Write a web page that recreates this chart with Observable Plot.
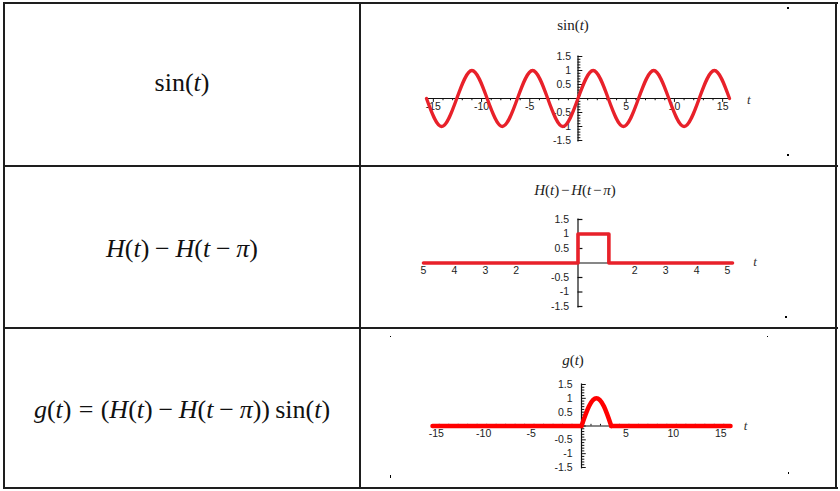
<!DOCTYPE html>
<html><head><meta charset="utf-8">
<script src="https://cdn.jsdelivr.net/npm/d3@7"></script>
<script src="https://cdn.jsdelivr.net/npm/@observablehq/plot@0.6"></script>
<style>
body{margin:0;background:#fff;}
#wrap{position:relative;width:840px;height:491px;overflow:hidden;background:#fff;}
.ln{position:absolute;background:#1e1e1e;}
.eq{position:absolute;left:4px;width:356px;text-align:center;font-family:"Liberation Serif",serif;font-size:26px;line-height:30px;color:#111;white-space:nowrap;}
.eq i{font-style:italic;}
.op{margin:0 0.22em;}
.rel{margin:0 0.28em;}
.ttl{position:absolute;left:400px;width:346px;text-align:center;font-family:"Liberation Serif",serif;font-size:15px;line-height:18px;color:#222;white-space:nowrap;}
.ttl i{font-style:italic;}
.top{margin:0 0.12em;}
.plot{position:absolute;left:400px;}
.dot{position:absolute;background:#000;}
</style>
</head><body>
<div id="wrap">
  <div class="ln" style="left:3px;top:2px;width:835px;height:2px"></div>
  <div class="ln" style="left:3px;top:487px;width:835px;height:2px"></div>
  <div class="ln" style="left:3px;top:2px;width:2px;height:487px"></div>
  <div class="ln" style="left:835px;top:2px;width:2px;height:487px"></div>
  <div class="ln" style="left:359px;top:2px;width:2px;height:487px"></div>
  <div class="ln" style="left:3px;top:165px;width:835px;height:2px"></div>
  <div class="ln" style="left:3px;top:327px;width:835px;height:2px"></div>

  <div class="eq" style="top:68px">sin(<i>t</i>)</div>
  <div class="eq" style="top:234px"><i>H</i>(<i>t</i>)<span class="op">−</span><i>H</i>(<i>t</i><span class="op">−</span><i>π</i>)</div>
  <div class="eq" style="top:395px"><i>g</i>(<i>t</i>)<span class="rel">=</span>(<i>H</i>(<i>t</i>)<span class="op">−</span><i>H</i>(<i>t</i><span class="op">−</span><i>π</i>))&thinsp;sin(<i>t</i>)</div>

  <div class="ttl" style="top:16px">sin(<i>t</i>)</div>
  <div class="ttl" style="top:181px;left:402px"><i>H</i>(<i>t</i>)<span class="top">−</span><i>H</i>(<i>t</i><span class="top">−</span><i>π</i>)</div>
  <div class="ttl" style="top:351px"><i>g</i>(<i>t</i>)</div>

  <div class="plot" id="p1" style="top:40px"></div>
  <div class="plot" id="p2" style="top:205px"></div>
  <div class="plot" id="p3" style="top:370px"></div>

  <div class="dot" style="left:787px;top:7px;width:2px;height:2px"></div>
  <div class="dot" style="left:787px;top:154px;width:2px;height:2px"></div>
  <div class="dot" style="left:785px;top:316px;width:2px;height:2px"></div>
  <div class="dot" style="left:767px;top:336px;width:1px;height:1px"></div>
  <div class="dot" style="left:390px;top:336px;width:1px;height:1px"></div>
  <div class="dot" style="left:390px;top:475px;width:1px;height:3px"></div>
  <div class="dot" style="left:788px;top:472px;width:1px;height:2px"></div>
</div>
<script>
// ---- data ----
// sin(t): key points (zeros and extrema)
const sinT = [-15.71,-14.14,-12.57,-11.00,-9.42,-7.85,-6.28,-4.71,-3.14,-1.57,0,1.57,3.14,4.71,6.28,7.85,9.42,11.00,12.57,14.14,15.71];
const sinV = [0,-1,0,1,0,-1,0,1,0,-1,0,1,0,-1,0,1,0,-1,0,1,0];
// H(t) - H(t - pi)
const stepT = [-15.71,0,0,3.14,3.14,15.71];
const stepV = [0,0,1,1,0,0];
// g(t): flat, bump, flat
const gT   = [-15.71,0,  0,0.79,1.57,2.36,3.14,  3.14,15.71];
const gV   = [0,0,       0,0.71,1,0.71,0,        0,0];
const gSeg = ["a","a",   "b","b","b","b","b",    "c","c"];

// tick labels
const xTicks1 = [-15,-10,-5,5,10,15];
const xLabels1 = ["-15","-10","-5","5","10","15"];
const yTicks = [-1.5,-1,-0.5,0.5,1,1.5];
const yLabels = ["-1.5","-1","-0.5","0.5","1","1.5"];
const xTicks2L = [-15.71,-12.57,-9.42,-6.28];
const xLabels2L = ["5","4","3","2"];
const xTicks2R = [6.28,9.42,12.57,15.71];
const xLabels2R = ["2","3","4","5"];

const FONT = "Liberation Sans, Arial, sans-serif";
const AX = "#111";
const LBL = "#1c1c1c";
const FS = 10.5;
const yMinor = d3.range(-15,16).map(d => d/10);
const xMinor = d3.range(-15,16);

function base(w, ml, mr, mt, mb, h, marks) {
  return Plot.plot({
    width: w, height: h,
    marginLeft: ml, marginRight: mr, marginTop: mt, marginBottom: mb,
    x: {domain: [-15.71, 15.71], axis: null},
    y: {domain: [-1.5, 1.5], axis: null},
    style: {fontFamily: FONT, fontSize: FS + "px", background: "transparent", overflow: "visible"},
    marks
  });
}

// ---- plot 1: sin(t) ----
const d1 = sinT.map((t,i) => ({t, v: sinV[i]}));
document.getElementById("p1").append(base(380, 26, 51, 16, 15, 115, [
  Plot.ruleY([0], {x1: -15.71, x2: 15.9, stroke: AX, strokeWidth: 1.2}),
  Plot.ruleX([0], {y1: -1.55, y2: 1.52, stroke: AX, strokeWidth: 1.2}),
  Plot.ruleX(xMinor, {x: d => d, y1: 0, y2: d => d % 5 === 0 ? -0.14 : -0.08, stroke: AX, strokeWidth: 1}),
  Plot.ruleY(yMinor, {y: d => d, x1: 0, x2: d => Math.round(d*10) % 5 === 0 ? 0.5 : 0.3, stroke: AX, strokeWidth: 1}),
  Plot.text(xTicks1, {x: d => d, y: 0, dy: 8, text: (d,i) => xLabels1[i], fill: LBL, fontSize: FS}),
  Plot.text(yTicks, {x: 0, y: d => d, dx: -7, textAnchor: "end", text: (d,i) => yLabels[i], fill: LBL, fontSize: FS}),
  Plot.text(["t"], {x: 17.7, y: 0, dy: 1, text: d => d, fontStyle: "italic", fontFamily: "Liberation Serif, serif", fontSize: 13, fill: "#333"}),
  Plot.line(d1, {x: "t", y: "v", stroke: "#e8212a", strokeWidth: 3.3, curve: "natural"})
]));

// ---- plot 2: H(t) - H(t - pi) ----
const d2 = stepT.map((t,i) => ({t, v: stepV[i]}));
document.getElementById("p2").append(base(380, 23, 48, 14, 14, 115, [
  Plot.ruleY([0], {x1: -15.71, x2: 15.9, stroke: AX, strokeWidth: 1.2}),
  Plot.ruleX([0], {y1: -1.55, y2: 1.52, stroke: AX, strokeWidth: 1.2}),
  Plot.ruleY(yTicks, {y: d => d, x1: 0, x2: 0.5, stroke: AX, strokeWidth: 1.2}),
  Plot.text(xTicks2L, {x: d => d, y: 0, dy: 8, text: (d,i) => xLabels2L[i], fill: LBL, fontSize: FS}),
  Plot.text(xTicks2R, {x: d => d, y: 0, dy: 8, dx: -5, text: (d,i) => xLabels2R[i], fill: LBL, fontSize: FS}),
  Plot.text(yTicks, {x: 0, y: d => d, dx: -9, textAnchor: "end", text: (d,i) => yLabels[i], fill: LBL, fontSize: FS}),
  Plot.text(["t"], {x: 18.0, y: 0, dy: -1, text: d => d, fontStyle: "italic", fontFamily: "Liberation Serif, serif", fontSize: 13, fill: "#333"}),
  Plot.line(d2, {x: "t", y: "v", stroke: "#e8212a", strokeWidth: 3.6})
]));

// ---- plot 3: g(t) ----
const d3g = gT.map((t,i) => ({t, v: gV[i], s: gSeg[i]}));
document.getElementById("p3").append(base(380, 32, 50, 14, 18, 115, [
  Plot.ruleY([0], {x1: -15.71, x2: 15.9, stroke: AX, strokeWidth: 1.2}),
  Plot.ruleX([0], {y1: -1.55, y2: 1.52, stroke: AX, strokeWidth: 1.2}),
  Plot.ruleX(xMinor, {x: d => d, y1: 0, y2: 0.06, stroke: AX, strokeWidth: 1}),
  Plot.ruleY(yMinor, {y: d => d, x1: 0, x2: d => Math.round(d*10) % 5 === 0 ? 0.5 : 0.35, stroke: AX, strokeWidth: 1}),
  Plot.text(xTicks1, {x: d => d, y: 0, dy: 8, dx: -3, text: (d,i) => xLabels1[i], fill: LBL, fontSize: FS}),
  Plot.text(yTicks, {x: 0, y: d => d, dx: -9, textAnchor: "end", text: (d,i) => yLabels[i], fill: LBL, fontSize: FS}),
  Plot.text(["t"], {x: 17.3, y: 0, dy: 0, text: d => d, fontStyle: "italic", fontFamily: "Liberation Serif, serif", fontSize: 13, fill: "#333"}),
  Plot.line(d3g, {x: "t", y: "v", z: "s", stroke: "#ff0000", strokeWidth: 4.5, curve: "natural"})
]));
</script>
</body></html>
